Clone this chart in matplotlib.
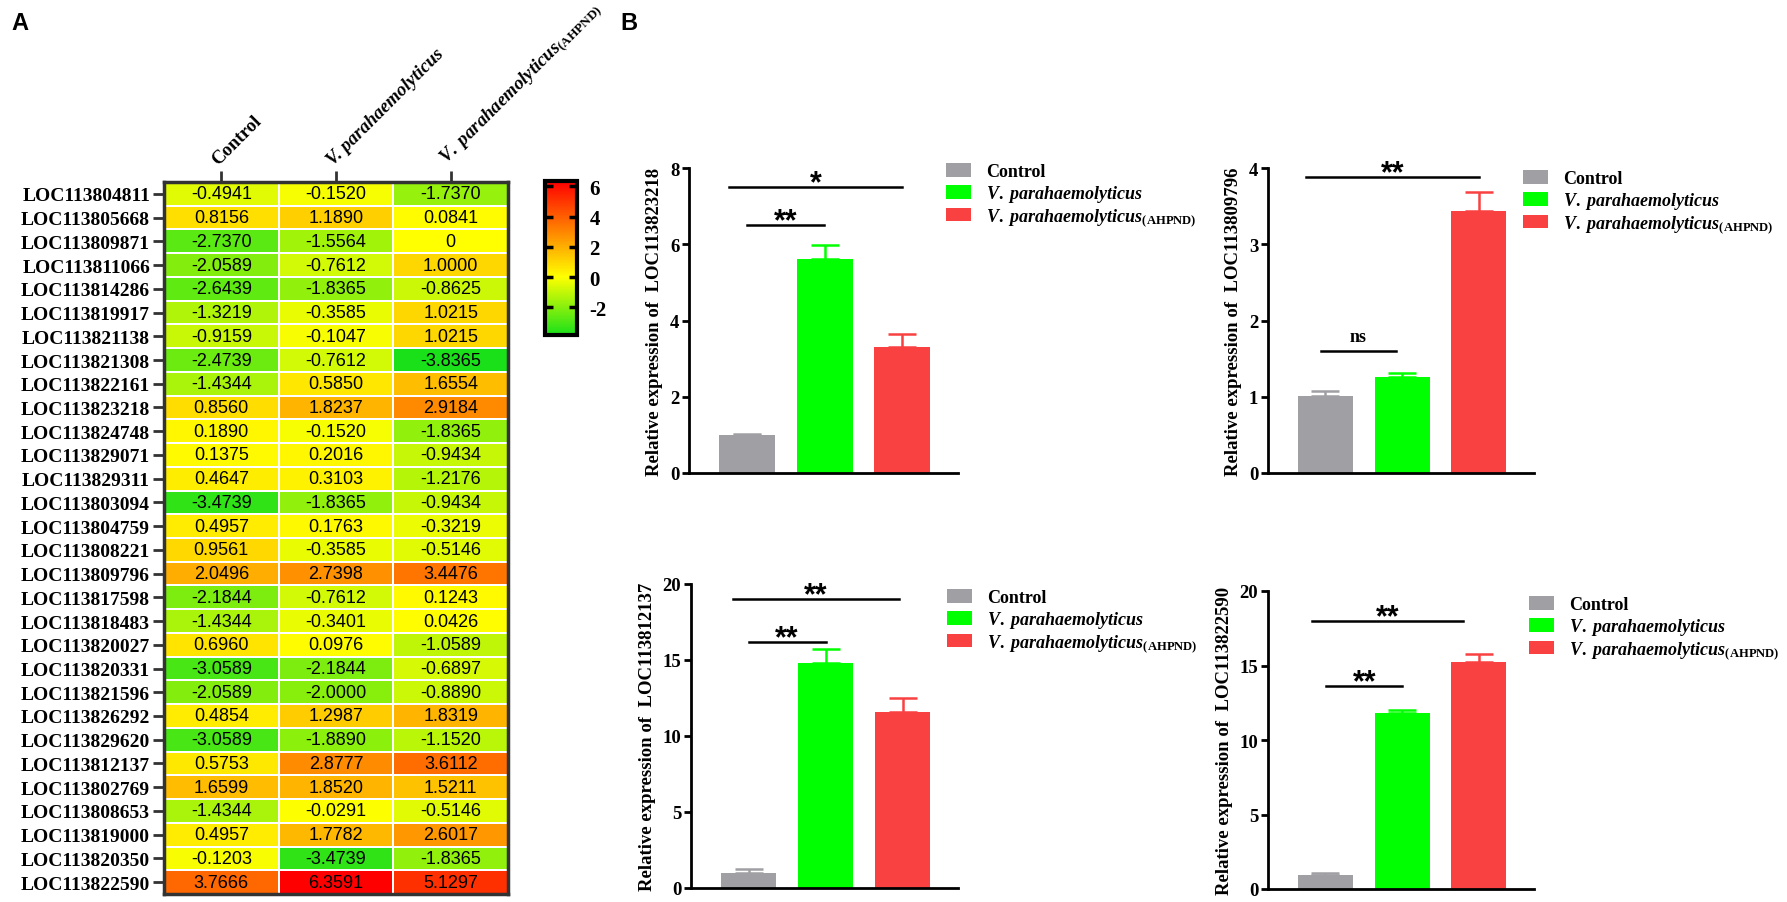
import numpy as np
import matplotlib
matplotlib.use("Agg")
import matplotlib.pyplot as plt
from matplotlib.colors import LinearSegmentedColormap

plt.rcParams['font.family'] = ['Liberation Serif', 'DejaVu Serif']
plt.rcParams['axes.unicode_minus'] = False
plt.rcParams['mathtext.fontset'] = 'custom'
plt.rcParams['mathtext.it'] = 'Liberation Serif:italic:bold'
plt.rcParams['mathtext.bf'] = 'Liberation Serif:bold'
plt.rcParams['mathtext.rm'] = 'Liberation Serif:bold'

# ---- panel A data ----
genes = ['LOC113804811', 'LOC113805668', 'LOC113809871', 'LOC113811066', 'LOC113814286',
         'LOC113819917', 'LOC113821138', 'LOC113821308', 'LOC113822161', 'LOC113823218',
         'LOC113824748', 'LOC113829071', 'LOC113829311', 'LOC113803094', 'LOC113804759',
         'LOC113808221', 'LOC113809796', 'LOC113817598', 'LOC113818483', 'LOC113820027',
         'LOC113820331', 'LOC113821596', 'LOC113826292', 'LOC113829620', 'LOC113812137',
         'LOC113802769', 'LOC113808653', 'LOC113819000', 'LOC113820350', 'LOC113822590']
hm_control = [-0.4941, 0.8156, -2.7370, -2.0589, -2.6439, -1.3219, -0.9159, -2.4739, -1.4344, 0.8560,
              0.1890, 0.1375, 0.4647, -3.4739, 0.4957, 0.9561, 2.0496, -2.1844, -1.4344, 0.6960,
              -3.0589, -2.0589, 0.4854, -3.0589, 0.5753, 1.6599, -1.4344, 0.4957, -0.1203, 3.7666]
hm_vp = [-0.1520, 1.1890, -1.5564, -0.7612, -1.8365, -0.3585, -0.1047, -0.7612, 0.5850, 1.8237,
         -0.1520, 0.2016, 0.3103, -1.8365, 0.1763, -0.3585, 2.7398, -0.7612, -0.3401, 0.0976,
         -2.1844, -2.0000, 1.2987, -1.8890, 2.8777, 1.8520, -0.0291, 1.7782, -3.4739, 6.3591]
hm_ahpnd = [-1.7370, 0.0841, 0, 1.0000, -0.8625, 1.0215, 1.0215, -3.8365, 1.6554, 2.9184,
            -1.8365, -0.9434, -1.2176, -0.9434, -0.3219, -0.5146, 3.4476, 0.1243, 0.0426, -1.0589,
            -0.6897, -0.8890, 1.8319, -1.1520, 3.6112, 1.5211, -0.5146, 2.6017, -1.8365, 5.1297]
cbar_ticks = [-2, 0, 2, 4, 6]

# ---- panel B data ----
bar_genes = ['LOC113823218', 'LOC113809796', 'LOC113812137', 'LOC113822590']
bar_means = [[1.00, 5.62, 3.31], [1.01, 1.26, 3.44], [0.99, 14.80, 11.57], [0.96, 11.84, 15.24]]
bar_errs = [[0.03, 0.35, 0.33], [0.06, 0.05, 0.25], [0.28, 0.90, 0.92], [0.09, 0.18, 0.51]]
y_max = [8, 4, 20, 20]
y_step = [2, 1, 5, 5]
# significance brackets: (x start, x end, height, label)
brackets = [
    [(-0.23, 2.0, 7.5, '*'), (0.0, 0.99, 6.5, '**')],
    [(-0.25, 2.0, 3.88, '**'), (-0.06, 0.92, 1.60, 'ns')],
    [(-0.21, 1.95, 19.0, '**'), (0.0, 1.0, 16.2, '**')],
    [(-0.17, 1.79, 18.0, '**'), (0.01, 1.0, 13.6, '**')],
]

W, H = 1787, 903
fig = plt.figure(figsize=(W / 100, H / 100), dpi=100)


def px_axes(left, top, right, bottom):
    return fig.add_axes([left / W, 1 - bottom / H, (right - left) / W, (bottom - top) / H])


grp_ctrl = 'Control'
grp_vp = r'$\mathit{V.\ parahaemolyticus}$'
grp_ahpnd = r'$\mathit{V.\ parahaemolyticus}_{\mathbf{(AHPND)}}$'
groups = [grp_ctrl, grp_vp, grp_ahpnd]
bar_colors = ['#a0a0a4', '#00ff00', '#f94141']

# ---------------- panel A heatmap ----------------
data = np.column_stack([hm_control, hm_vp, hm_ahpnd])
cmap = LinearSegmentedColormap.from_list(
    'gyr', [(0.0, (0.1, 0.88, 0.1)),
            ((0 - data.min()) / (data.max() - data.min()), (1.0, 1.0, 0.0)),
            (1.0, (1.0, 0.0, 0.0))])

ax = px_axes(164, 183, 508, 895)
mesh = ax.pcolormesh(np.arange(4), np.arange(len(genes) + 1), data, cmap=cmap,
                     vmin=data.min(), vmax=data.max(), edgecolors='white', linewidth=1.3)
ax.set_xlim(0, 3)
ax.set_ylim(len(genes), 0)
for i in range(len(genes)):
    for j in range(3):
        v = data[i, j]
        s = '0' if v == 0 else f'{v:.4f}'
        ax.text(j + 0.5, i + 0.5, s, ha='center', va='center', fontsize=13,
                family='Liberation Sans')
ax.set_yticks(np.arange(len(genes)) + 0.5)
ax.set_yticklabels(genes, fontsize=14, fontweight='bold')
ax.xaxis.tick_top()
ax.set_xticks(np.arange(3) + 0.5)
ax.set_xticklabels(['Control', 'V. parahaemolyticus', grp_ahpnd], rotation=45,
                   ha='left', va='bottom', rotation_mode='anchor', fontsize=13.5)
xt = ax.get_xticklabels()
xt[0].set_fontweight('bold')
xt[1].set_fontweight('bold')
xt[1].set_fontstyle('italic')
ax.tick_params(axis='both', length=8, width=2, color='#333333', pad=2)
for sp in ax.spines.values():
    sp.set_linewidth(2.5)
    sp.set_color('#333333')

cax = px_axes(545, 182, 577, 336)
cb = fig.colorbar(mesh, cax=cax, ticks=cbar_ticks)
cb.outline.set_linewidth(3)
cax.tick_params(direction='in', length=6, width=2.5, left=True, right=True, pad=9)
for t in cax.get_yticklabels():
    t.set_fontsize(15)
    t.set_fontweight('bold')

fig.text(11 / W, 1 - 23 / H, 'A', fontsize=17, fontweight='bold', family='Liberation Sans',
         va='center', ha='left')
fig.text(620 / W, 1 - 23 / H, 'B', fontsize=17, fontweight='bold', family='Liberation Sans',
         va='center', ha='left')

# ---------------- panel B bar charts ----------------
boxes = [(689, 169, 958, 474), (1268, 169, 1534, 474), (691, 585, 958, 889), (1268, 592, 1534, 890)]
leg_pos = [(946, 164), (1523, 171), (947, 590), (1529, 597)]
x = np.arange(3)
for k in range(4):
    a = px_axes(*boxes[k])
    bars = a.bar(x, bar_means[k], width=0.72, color=bar_colors, zorder=2)
    for b in range(3):
        a.errorbar(x[b], bar_means[k][b], yerr=[[0], [bar_errs[k][b]]], fmt='none',
                   ecolor=bar_colors[b], elinewidth=1.8, capsize=10, capthick=1.8, zorder=1)
    for x0, x1, yy, lab in brackets[k]:
        a.plot([x0, x1], [yy, yy], color='black', lw=1.8, clip_on=False)
        if lab == 'ns':
            a.annotate(lab, ((x0 + x1) / 2, yy), xytext=(0, 4), textcoords='offset points',
                       ha='center', va='bottom', fontsize=13, fontweight='bold')
        else:
            a.annotate(lab, ((x0 + x1) / 2, yy), xytext=(0, -3), textcoords='offset points',
                       ha='center', va='baseline', fontsize=22, fontweight='bold',
                       family='Liberation Sans')
    a.set_xlim(-0.75, 2.72)
    a.set_ylim(0, y_max[k])
    a.set_yticks(np.arange(0, y_max[k] + 0.1, y_step[k]))
    a.set_xticks([])
    a.spines['top'].set_visible(False)
    a.spines['right'].set_visible(False)
    a.spines['left'].set_linewidth(2)
    a.spines['bottom'].set_linewidth(2)
    a.tick_params(axis='y', length=5, width=2, labelsize=13.5, pad=2)
    for t in a.get_yticklabels():
        t.set_fontweight('bold')
    a.set_ylabel('Relative expression of  ' + bar_genes[k], fontsize=13.5,
                 fontweight='bold', labelpad=5)
    lg = a.legend(bars, groups, loc='upper left', frameon=False,
                  bbox_to_anchor=(leg_pos[k][0] / W, 1 - leg_pos[k][1] / H),
                  bbox_transform=fig.transFigure, borderaxespad=0, borderpad=0,
                  handlelength=1.4, handleheight=0.8, handletextpad=0.8,
                  labelspacing=0.15, prop={'size': 13, 'weight': 'bold'})

fig.savefig('out.png', dpi=100)
